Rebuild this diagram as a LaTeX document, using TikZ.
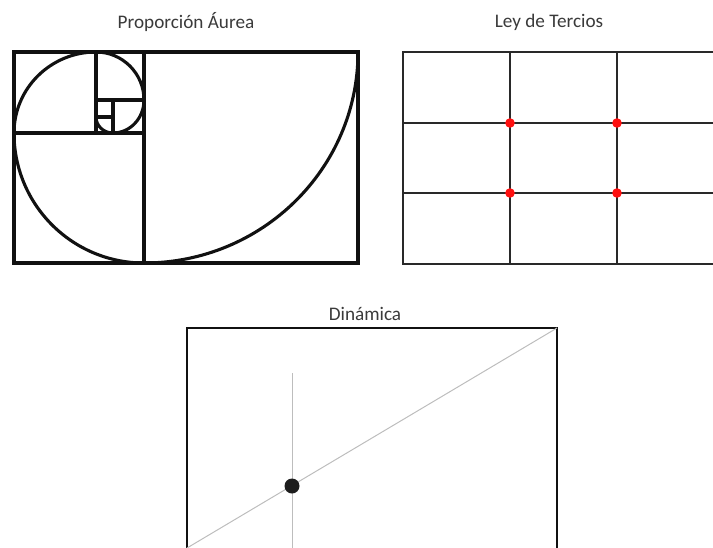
\documentclass[tikz,border=0pt]{standalone}
\usepackage{fontspec}
\setmainfont{Carlito}
\usepackage{tikz}
\usetikzlibrary{positioning}
\definecolor{ink}{HTML}{111111}
\definecolor{caption}{HTML}{3A3A3A}
\definecolor{guide}{HTML}{BDBDBD}
\definecolor{hotspot}{HTML}{FF1010}

\begin{document}
\begin{tikzpicture}[x=1pt, y=-1pt,
    title/.style={font=\fontsize{19.2}{21}\selectfont, text=caption, inner sep=0pt},
    golden/.style={draw=ink, line width=3.1pt},
    thirds/.style={draw=ink!90, line width=2.1pt},
    dynframe/.style={draw=ink, line width=1.5pt},
    dynguide/.style={draw=guide, line width=1pt}]
    \useasboundingbox (0,0) rectangle (713,547);
    \clip (0,0) rectangle (713,547);

    % golden ratio
    \node[title] (goldtitle) at (186,22) {Proporción Áurea};
    \draw[golden] (14,52) rectangle (358,263);
    \draw[golden] (144,52) -- (144,263)
                  (14,133) -- (144,133)
                  (96,52) -- (96,133)
                  (96,100) -- (144,100)
                  (113,100) -- (113,133)
                  (96,117) -- (113,117);
    \draw[golden] (358,52) arc[start angle=0, end angle=90, x radius=214, y radius=211]
                  arc[start angle=90, end angle=180, radius=130]
                  arc[start angle=180, end angle=270, x radius=82, y radius=81]
                  arc[start angle=270, end angle=360, radius=48]
                  arc[start angle=0, end angle=90, x radius=31, y radius=33]
                  arc[start angle=90, end angle=180, x radius=17, y radius=16];

    % rule of thirds
    \node[title] (thirdstitle) at (549,22) {Ley de Tercios};
    \draw[thirds] (403,52) rectangle (724,264);
    \foreach \gx in {510,617} \draw[thirds] (\gx,52) -- (\gx,264);
    \foreach \gy in {123,193} \draw[thirds] (403,\gy) -- (724,\gy);
    \foreach \gx in {510,617}
        \foreach \gy in {123,193}
            \fill[hotspot] (\gx,\gy) circle (4.8);

    % dynamic
    \node[title] (dyntitle) at (365,314) {Dinámica};
    \draw[dynframe] (187,328) rectangle (557,550);
    \draw[dynguide] (187,548) -- (557,328);
    \draw[dynguide] (292,373) -- (292,550);
    \fill[ink!95] (292,486) circle (7.5);
\end{tikzpicture}
\end{document}
